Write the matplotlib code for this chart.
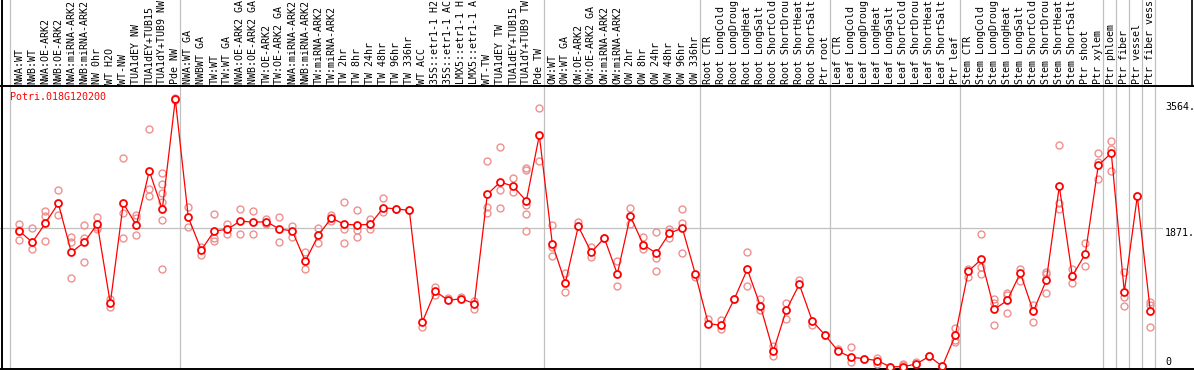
import matplotlib
matplotlib.use('Agg')
import matplotlib.pyplot as plt

gene = 'Potri.018G120200'

samples = [
    'NWA:WT', 'NWB:WT', 'NWA:OE-ARK2', 'NWB:OE-ARK2', 'NWA:miRNA-ARK2',
    'NWB:miRNA-ARK2', 'NW 0hr', 'WT H2O', 'WT-NW', 'TUA1dEY NW',
    'TUA1dEY+TUB15', 'TUA1dY+TUB9 NW', 'Pde NW',
    'NWA:WT GA', 'NWBWT GA', 'TW:WT', 'TW:WT GA', 'NWA:OE-ARK2 GA',
    'NWB:OE-ARK2 GA', 'TW:OE-ARK2', 'TW:OE-ARK2 GA', 'NWA:miRNA-ARK2',
    'NWB:miRNA-ARK2', 'TW:miRNA-ARK2', 'TW:miRNA-ARK2', 'TW 2hr', 'TW 8hr',
    'TW 24hr', 'TW 48hr', 'TW 96hr', 'TW 336hr', 'WT ACC', '35S::etr1-1 H2O',
    '35S::etr1-1 ACC', 'LMX5::etr1-1 H2O', 'LMX5::etr1-1 ACC', 'WT-TW',
    'TUA1dEY TW', 'TUA1dEY+TUB15', 'TUA1dY+TUB9 TW', 'Pde TW',
    'OW:WT', 'OW:WT GA', 'OW:OE-ARK2', 'OW:OE-ARK2 GA', 'OW:miRNA-ARK2',
    'OW:miRNA-ARK2', 'OW 2hr', 'OW 8hr', 'OW 24hr', 'OW 48hr', 'OW 96hr',
    'OW 336hr',
    'Root CTR', 'Root LongCold', 'Root LongDrought', 'Root LongHeat',
    'Root LongSalt', 'Root ShortCold', 'Root ShortDrought', 'Root ShortHeat',
    'Root ShortSalt', 'Ptr root',
    'Leaf CTR', 'Leaf LongCold', 'Leaf LongDrought', 'Leaf LongHeat',
    'Leaf LongSalt', 'Leaf ShortCold', 'Leaf ShortDrought', 'Leaf ShortHeat',
    'Leaf ShortSalt', 'Ptr leaf',
    'Stem CTR', 'Stem LongCold', 'Stem LongDrought', 'Stem LongHeat',
    'Stem LongSalt', 'Stem ShortCold', 'Stem ShortDrought', 'Stem ShortHeat',
    'Stem ShortSalt', 'Ptr shoot', 'Ptr xylem',
    'Ptr phloem', 'Ptr fiber', 'Ptr vessel', 'Ptr fiber vessel',
]

# number of samples in each block separated by a grey line
groups = [13, 28, 12, 10, 10, 11, 1, 1, 1, 1]

means = [
    1835, 1682, 1938, 2209, 1547, 1682, 1929, 858, 2209, 1911,
    2645, 2127, 3614, 2019, 1578, 1835, 1857, 1970, 1952, 1961,
    1862, 1835, 1425, 1776, 2010, 1925, 1916, 1925, 2150, 2132,
    2114, 605, 1020, 898, 920, 853, 2330, 2497, 2438, 2240,
    3127, 1664, 1132, 1898, 1547, 1740, 1254, 2037, 1650, 1533,
    1803, 1875, 1254, 583, 560, 916, 1317, 826, 209, 767,
    1114, 619, 425, 209, 128, 110, 83, 0, 2, 38,
    142, 6, 425, 1290, 1452, 776, 898, 1267, 749, 1168,
    2438, 1227, 1524, 2722, 2888, 1011, 2303, 754,
]

replicates = [
    [1925, 1848, 1709], [1871, 1587], [2100, 2037, 1700], [2384, 2046],
    [1754, 1682, 1195], [1916, 1745, 1411], [2024, 1893, 1862], [916, 803],
    [2816, 2073, 1736], [2051, 2010, 1776], [3208, 2402, 2312],
    [2614, 2465, 2344, 2231, 1983, 1317], [3627, 3605],
    [2154, 1884], [1623, 1515], [2060, 1736, 1704], [1925, 1794],
    [2127, 1799], [2105, 1799], [1997, 1929], [2024, 1682], [1907, 1758],
    [1547, 1317], [1871, 1677], [2046, 1974], [2222, 1866, 1668],
    [2114, 1848, 1758], [1992, 1866], [2276, 2091], [2132], [2114], [542],
    [1074, 975], [925], [939], [889, 781], [2780, 2163, 2073],
    [2970, 2384, 2141], [2546, 2366], [2690, 2659, 2186, 2064, 1830],
    [3492, 2780],
    [1911, 1623, 1497], [1263, 1011], [1956], [1614, 1488], [1740],
    [1425, 1087], [2145, 1929], [1754, 1596], [1817, 1474, 1290],
    [1857, 1740], [2132, 1938, 1533], [1209],
    [650], [632, 515], [916], [1547, 1087], [916, 767], [286, 150],
    [867, 641], [1173], [565], [425],
    [241], [268, 60], [110], [114, 38], [0], [38, 20], [69], [142], [6],
    [520, 362, 335],
    [1326, 1218], [1790, 1344, 1249], [912, 858, 560], [1002, 975, 722],
    [1321, 1164], [835, 601], [1285, 1254, 993], [2992, 2209, 2127],
    [1321, 1128], [1668, 1357], [2884, 2771, 2533],
    [3051, 2938, 2645], [1285, 948, 822], [2303], [880, 835, 533],
]

ytick_vals = [3564, 1871, 0]

W, H = 1194, 370
fig = plt.figure(figsize=(W / 100, H / 100), dpi=100)
ax = fig.add_axes([0, 0, 1, 1])
ax.axis('off')

# pixel layout of the original: first column centre / column step,
# zero line position and data units per pixel
X0, STEP = 19.3, 13.0
Y0, UPP = 366.8, 13.51
ax.set_xlim(-X0 / STEP, (W - X0) / STEP)
ax.set_ylim(-(H - Y0) * UPP, Y0 * UPP)


def fy(px):
    return 1 - px / H


FONT = dict(family='DejaVu Sans Mono', fontsize=7.2)
GREY = '#c0c0c0'

# vertical separators between the sample blocks
ax.axvline(-9 / STEP, color=GREY, lw=0.9, zorder=1)
pos = 0
for g in groups:
    pos += g
    ax.axvline(pos - 1 + 5 / STEP, color=GREY, lw=0.9, zorder=1)

# middle horizontal grid line
ax.plot([0, 1162 / W], [ytick_vals[1]] * 2, color=GREY, lw=0.9,
        transform=ax.get_yaxis_transform(), zorder=1)

# frame
ax.plot([0, 1], [fy(86)] * 2, color='black', lw=1.4, transform=ax.transAxes)
ax.plot([0, 1], [fy(369)] * 2, color='black', lw=1.4, transform=ax.transAxes)
ax.plot([1.5 / W] * 2, [0, 1], color='black', lw=1.4, transform=ax.transAxes)
ax.plot([(W - 2) / W] * 2, [fy(86), 1], color='black', lw=1.2,
        transform=ax.transAxes)

# sample names in the header
for i, name in enumerate(samples):
    ax.text(i, fy(84), name[:14], rotation=90, ha='center', va='bottom',
            transform=ax.get_xaxis_transform(), **FONT)

# replicates then means
for i, reps in enumerate(replicates):
    ax.plot([i] * len(reps), reps, 'o', ms=5, mfc='none', mec='#ee9090',
            mew=1.0, zorder=2)
xs = list(range(len(means)))
ax.plot(xs, means, '-', color='red', lw=0.9, zorder=3)
ax.plot(xs, means, 'o', ms=5, mfc='white', mec='red', mew=1.3, zorder=4)

# y labels on the right
ax.annotate('3564.', (1165 / W, ytick_vals[0]), xytext=(0, -3.2),
            textcoords='offset points', va='center', ha='left',
            xycoords=ax.get_yaxis_transform(), **FONT)
ax.annotate('1871.', (1165 / W, ytick_vals[1]), xytext=(0, -3.2),
            textcoords='offset points', va='center', ha='left',
            xycoords=ax.get_yaxis_transform(), **FONT)
ax.annotate('0', (1165 / W, ytick_vals[2]), xytext=(0, 3.6),
            textcoords='offset points', va='center', ha='left',
            xycoords=ax.get_yaxis_transform(), **FONT)

ax.text(10 / W, fy(96.7), gene, color='red', ha='left', va='center',
        transform=ax.transAxes, **FONT)

fig.savefig('out.png', dpi=100)
